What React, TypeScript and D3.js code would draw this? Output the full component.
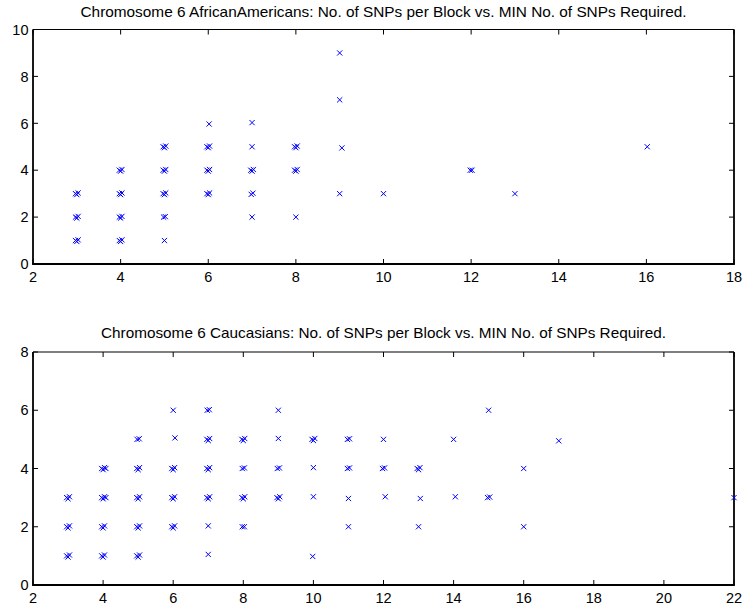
import React from "react";
import * as d3 from "d3";

// African Americans: No. of SNPs per block (x) vs. MIN No. of SNPs required (y)
const aaBlockSize = [
  2.97, 3.03, 3, 2.97, 3.03, 3, 2.97, 3.03, 3,
  3.97, 4.03, 4, 3.97, 4.03, 4, 3.97, 4.03, 4, 3.97, 4.03, 4,
  5, 4.98, 5.02, 4.97, 5.03, 5, 4.97, 5.03, 5, 4.97, 5.03, 5,
  5.97, 6.03, 6, 5.97, 6.03, 6, 5.97, 6.03, 6, 6.02,
  7, 6.98, 7.02, 6.97, 7.03, 7, 7, 7,
  8, 7.97, 8.03, 8, 7.97, 8.03, 8,
  9, 9.05, 9, 9,
  10, 11.98, 12.02, 13, 16.02,
];
const aaMinRequired = [
  1, 1.03, 0.96, 2, 2.03, 1.96, 3, 3.03, 2.96,
  1, 1.03, 0.96, 2, 2.03, 1.96, 3, 3.03, 2.96, 4, 4.03, 3.96,
  1, 2, 2.02, 3, 3.03, 2.96, 4, 4.03, 3.96, 5, 5.03, 4.96,
  3, 3.03, 2.96, 4, 4.03, 3.96, 5, 5.03, 4.96, 5.97,
  2, 2.97, 3.02, 4, 4.03, 3.96, 5, 6.03,
  2, 4, 4.03, 3.96, 5, 5.03, 4.96,
  3, 4.95, 7, 9,
  3, 4, 4, 3, 5,
];

// Caucasians
const cauBlockSize = [
  2.96, 3.04, 3, 2.96, 3.04, 3, 2.96, 3.04, 3,
  3.96, 4.04, 4, 3.96, 4.04, 4, 3.96, 4.04, 4, 4.08, 3.96, 4.04, 4, 4.08,
  4.96, 5.04, 5, 4.96, 5.04, 5, 4.96, 5.04, 5, 4.96, 5.04, 5, 4.97, 5.03,
  5.96, 6.04, 6, 5.96, 6.04, 6, 5.96, 6.04, 6, 6.05, 6,
  7, 7, 6.96, 7.04, 7, 6.96, 7.04, 7, 6.96, 7.04, 7, 6.97, 7.03,
  7.97, 8.03, 7.96, 8.04, 8, 7.97, 8.03, 7.96, 8.04, 8,
  8.96, 9.04, 9, 8.97, 9.03, 9, 9,
  9.98, 10, 10, 9.96, 10.04, 10,
  11, 11, 10.97, 11.03, 10.97, 11.03,
  12.05, 11.97, 12.03, 12,
  13, 13.05, 12.96, 13.04, 13,
  14.05, 14,
  14.97, 15.03, 15,
  16, 16,
  17,
  22,
];
const cauMinRequired = [
  1, 1.03, 0.96, 2, 2.03, 1.96, 3, 3.03, 2.96,
  1, 1.03, 0.96, 2, 2.03, 1.96, 3, 3.03, 2.96, 3, 4, 4.03, 3.96, 4,
  1, 1.03, 0.96, 2, 2.03, 1.96, 3, 3.03, 2.96, 4, 4.03, 3.96, 5, 5.02,
  2, 2.03, 1.96, 3, 3.03, 2.96, 4, 4.03, 3.96, 5.05, 6,
  1.05, 2.03, 3, 3.03, 2.96, 4, 4.03, 3.96, 5, 5.03, 4.96, 6, 6.02,
  2, 2, 3, 3.03, 2.96, 4, 4.02, 5, 5.03, 4.96,
  3, 3.03, 2.96, 4, 4.02, 5.03, 6,
  0.98, 3.03, 4.03, 5, 5.03, 4.96,
  2, 2.97, 4, 4.02, 5, 5.02,
  3.03, 4, 4.02, 5,
  2, 2.97, 4, 4.03, 3.96,
  3.03, 5,
  3, 3.02, 6,
  2, 4,
  4.95,
  3,
];

const titles = [
  "Chromosome 6 AfricanAmericans: No. of SNPs per Block vs. MIN No. of SNPs Required.",
  "Chromosome 6 Caucasians: No. of SNPs per Block vs. MIN No. of SNPs Required.",
];
const aaXTicks = [2, 4, 6, 8, 10, 12, 14, 16, 18];
const aaYTicks = [0, 2, 4, 6, 8, 10];
const cauXTicks = [2, 4, 6, 8, 10, 12, 14, 16, 18, 20, 22];
const cauYTicks = [0, 2, 4, 6, 8];

const FONT = "'Liberation Sans', Arial, Helvetica, sans-serif";
const BLUE = "#0000ff";

type PanelProps = {
  xs: number[];
  ys: number[];
  xDomain: [number, number];
  yDomain: [number, number];
  xTicks: number[];
  yTicks: number[];
  left: number;
  right: number;
  top: number;
  bottom: number;
  title: string;
  titleY: number;
  titleWidth: number;
};

function Panel(p: PanelProps) {
  const x = d3.scaleLinear().domain(p.xDomain).range([p.left, p.right]);
  const y = d3.scaleLinear().domain(p.yDomain).range([p.bottom, p.top]);
  const tl = 5;
  const m = 2.6;
  const fs = 14.5;
  return (
    <g>
      <text
        x={(p.left + p.right) / 2}
        y={p.titleY}
        textAnchor="middle"
        fontFamily={FONT}
        fontSize={14.5}
        textLength={p.titleWidth}
        lengthAdjust="spacingAndGlyphs"
        fill="#000"
      >
        {p.title}
      </text>
      <line x1={p.left} x2={p.right} y1={p.top} y2={p.top} stroke="#000" strokeWidth={1} />
      <line x1={p.left} x2={p.left} y1={p.top} y2={p.bottom} stroke="#000" strokeWidth={1.8} />
      <line x1={p.right} x2={p.right} y1={p.top} y2={p.bottom} stroke="#000" strokeWidth={1.8} />
      <line x1={p.left - 0.9} x2={p.right + 0.9} y1={p.bottom} y2={p.bottom} stroke="#000" strokeWidth={1.8} />
      {p.xTicks.map((t) => (
        <g key={"x" + t}>
          <line x1={x(t)} x2={x(t)} y1={p.bottom} y2={p.bottom - tl} stroke="#000" />
          <line x1={x(t)} x2={x(t)} y1={p.top} y2={p.top + tl} stroke="#000" />
          <text
            x={x(t)}
            y={p.bottom + 17.8}
            textAnchor="middle"
            fontFamily={FONT}
            fontSize={fs}
            fill="#000"
          >
            {t}
          </text>
        </g>
      ))}
      {p.yTicks.map((t) => (
        <g key={"y" + t}>
          <line x1={p.left} x2={p.left + tl} y1={y(t)} y2={y(t)} stroke="#000" />
          <line x1={p.right} x2={p.right - tl} y1={y(t)} y2={y(t)} stroke="#000" />
          <text
            x={p.left - 4.5}
            y={y(t) + 5.2}
            textAnchor="end"
            fontFamily={FONT}
            fontSize={fs}
            fill="#000"
          >
            {t}
          </text>
        </g>
      ))}
      {p.xs.map((v, i) => {
        const cx = x(v);
        const cy = y(p.ys[i]);
        return (
          <path
            key={i}
            d={`M${cx - m},${cy - m}L${cx + m},${cy + m}M${cx - m},${cy + m}L${cx + m},${cy - m}`}
            stroke={BLUE}
            strokeWidth={1}
            fill="none"
          />
        );
      })}
    </g>
  );
}

export default function App() {
  return (
    <svg
      width={744}
      height={611}
      style={{ position: "absolute", left: 0, top: 0, background: "#fff" }}
    >
      <rect width={744} height={611} fill="#fff" />
      <Panel
        xs={aaBlockSize}
        ys={aaMinRequired}
        xDomain={[2, 18]}
        yDomain={[0, 10]}
        xTicks={aaXTicks}
        yTicks={aaYTicks}
        left={33}
        right={734}
        top={29.5}
        bottom={264}
        title={titles[0]}
        titleY={17}
        titleWidth={606}
      />
      <Panel
        xs={cauBlockSize}
        ys={cauMinRequired}
        xDomain={[2, 22]}
        yDomain={[0, 8]}
        xTicks={cauXTicks}
        yTicks={cauYTicks}
        left={33}
        right={734}
        top={352}
        bottom={585}
        title={titles[1]}
        titleY={338}
        titleWidth={565}
      />
    </svg>
  );
}
